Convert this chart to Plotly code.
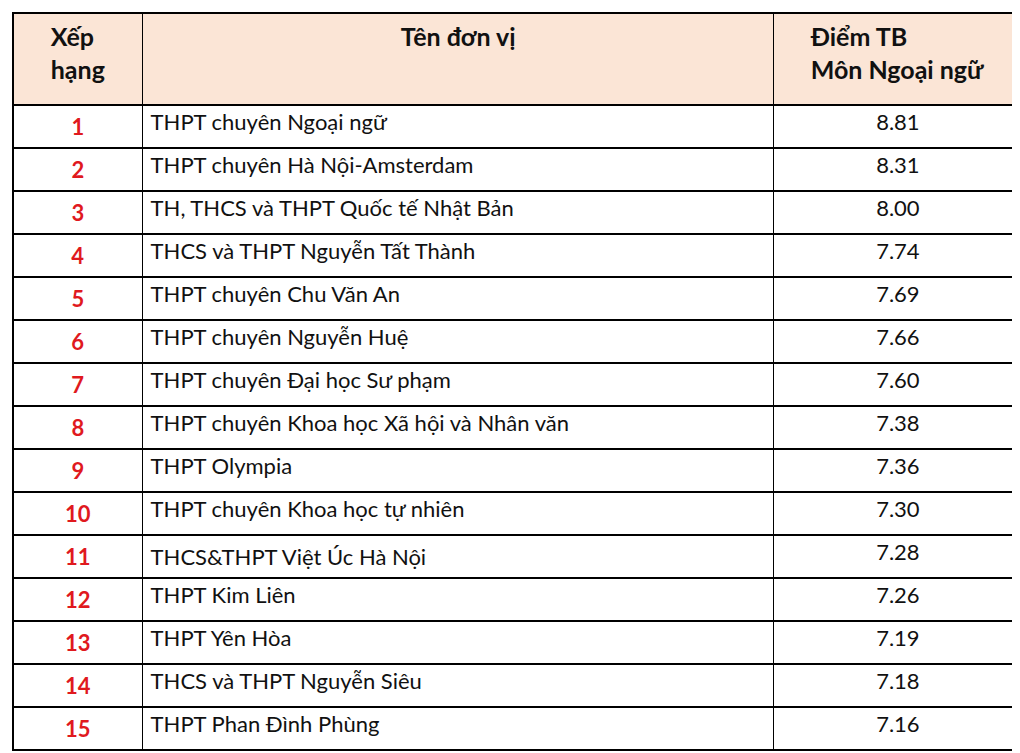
import plotly.graph_objects as go

ranks = [str(i) for i in range(1, 16)]
schools = [
    "THPT chuyên Ngoại ngữ",
    "THPT chuyên Hà Nội-Amsterdam",
    "TH, THCS và THPT Quốc tế Nhật Bản",
    "THCS và THPT Nguyễn Tất Thành",
    "THPT chuyên Chu Văn An",
    "THPT chuyên Nguyễn Huệ",
    "THPT chuyên Đại học Sư phạm",
    "THPT chuyên Khoa học Xã hội và Nhân văn",
    "THPT Olympia",
    "THPT chuyên Khoa học tự nhiên",
    "THCS&THPT Việt Úc Hà Nội",
    "THPT Kim Liên",
    "THPT Yên Hòa",
    "THCS và THPT Nguyễn Siêu",
    "THPT Phan Đình Phùng",
]
scores = [8.81, 8.31, 8.00, 7.74, 7.69, 7.66, 7.60, 7.38, 7.36, 7.30, 7.28, 7.26, 7.19, 7.18, 7.16]
headers = ["<b>Xếp<br>hạng</b>", "<b>Tên đơn vị</b>", "<b>Điểm TB<br>Môn Ngoại ngữ</b>"]

font = "Lato"
fig = go.Figure(go.Table(
    columnwidth=[130, 633, 249],
    header=dict(
        values=headers,
        fill_color="#FBE5D6",
        line=dict(color="#000000", width=1.5),
        align="center",
        height=92,
        font=dict(family=font, size=25, color="#111111"),
    ),
    cells=dict(
        values=[["<b>%s</b>" % r for r in ranks], schools, ["%.2f" % s for s in scores]],
        fill_color="#FFFFFF",
        line=dict(color="#000000", width=1.5),
        align=["center", "left", "center"],
        height=43,
        font=dict(family=font, size=22, color=["#E0191E", "#111111", "#111111"]),
    ),
))
fig.update_layout(width=1020, height=753, margin=dict(l=5, r=6, t=5, b=0),
                  paper_bgcolor="#FFFFFF")
fig.write_html("out.html")
